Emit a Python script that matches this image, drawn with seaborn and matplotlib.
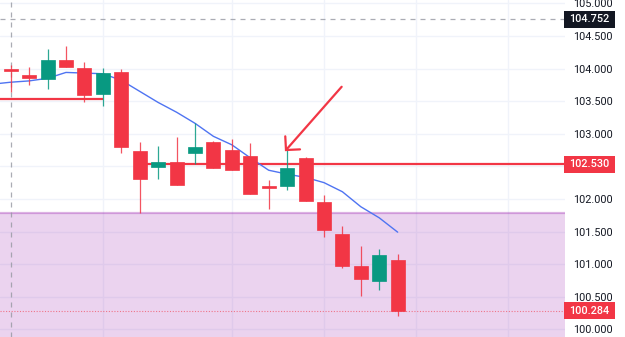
import numpy as np
import pandas as pd
import matplotlib
matplotlib.use("Agg")
import matplotlib.pyplot as plt
import matplotlib.transforms as mtransforms
from matplotlib.patches import Rectangle
import seaborn as sns

# ---------------- data ----------------
opens  = [103.99, 103.90, 103.84, 104.13, 104.01, 103.61, 103.95, 102.73, 102.49, 102.56, 102.70,
          102.88, 102.75, 102.66, 102.20, 102.20, 102.62, 101.95, 101.46, 100.97, 100.74, 101.07]
highs  = [104.05, 104.02, 104.30, 104.35, 104.10, 104.01, 103.99, 102.87, 102.81, 102.95, 103.16,
          102.89, 102.92, 102.86, 102.29, 102.77, 102.65, 102.06, 101.58, 101.28, 101.23, 101.15]
lows   = [103.64, 103.75, 103.68, 104.02, 103.48, 103.42, 102.71, 101.79, 102.31, 102.21, 102.54,
          102.48, 102.44, 102.07, 101.85, 102.13, 101.97, 101.42, 100.94, 100.51, 100.61, 100.21]
closes = [103.96, 103.86, 104.13, 104.02, 103.59, 103.93, 102.79, 102.31, 102.57, 102.21, 102.80,
          102.48, 102.44, 102.07, 102.16, 102.47, 101.97, 101.52, 100.97, 100.77, 101.14, 100.284]

# moving average, first value belongs to the bar before the first visible candle
ma_values = [103.76, 103.79, 103.81, 103.85, 103.94, 103.93, 103.92, 103.82, 103.65, 103.48, 103.33,
             103.16, 102.96, 102.83, 102.63, 102.44, 102.38, 102.33, 102.25, 102.11, 101.88, 101.71, 101.49]
ma_first_index = -1

support_level = 103.54       # red line on the left
support_end_bar = 5
resistance_level = 102.53    # red line on the right
resistance_start_bar = 7
zone_top = 101.78            # purple zone top
crosshair_price = 104.752
crosshair_bar = 0
last_price = 100.284
time_grid_bars = [5, 12, 17, 22, 27]
y_ticks = [100.0, 100.5, 101.0, 101.5, 102.0, 102.5, 103.0, 103.5, 104.0, 104.5, 105.0]
hidden_tick = 102.5          # covered by the 102.530 price label in the reference

arrow_tail = (17.96, 103.72)
arrow_tip = (14.94, 102.75)
arrow_arm1 = (14.90, 102.96)
arrow_arm2 = (15.70, 102.76)

# ---------------- style ----------------
sns.set_theme(style="white")
plt.rcParams['font.family'] = ['Roboto', 'DejaVu Sans']

RED = '#F23645'
GREEN = '#089981'
BLUE = '#4F74F2'
TXT = '#131722'
GRID = '#F0F3FA'

fig = plt.figure(figsize=(6.25, 3.37), dpi=100)
ax = fig.add_axes([0, 0, 565 / 625, 1])

xlim = (-0.58, 30.08)
ylim = (99.882, 105.051)
ax.set_xlim(*xlim)
ax.set_ylim(*ylim)

for s in ax.spines.values():
    s.set_visible(False)

# grid
for t in y_ticks:
    ax.axhline(t, color=GRID, lw=1, zorder=0)
for b in time_grid_bars:
    ax.axvline(b, color=GRID, lw=1, zorder=0)

# purple zone
ax.axhspan(ylim[0], zone_top, facecolor=(156/255, 39/255, 176/255, 0.2), edgecolor='none', zorder=1)
ax.axhline(zone_top, color=(156/255, 39/255, 176/255, 0.35), lw=1.6, zorder=1.1)

# crosshair
ax.axhline(crosshair_price, color='#9598A1', lw=0.9, ls=(0, (4, 4)), zorder=1.5, alpha=0.8)
ax.axvline(crosshair_bar, color='#9598A1', lw=0.9, ls=(0, (4, 4)), zorder=1.5, alpha=0.8)

# last price dotted line
ax.axhline(last_price, color=RED, lw=0.8, ls=(0, (1, 1.5)), zorder=1.6, alpha=0.6)

# horizontal red levels
ax.plot([xlim[0], support_end_bar], [support_level, support_level], color=RED, lw=1.6, zorder=2,
        solid_capstyle='butt')
ax.plot([resistance_start_bar, xlim[1]], [resistance_level, resistance_level], color=RED, lw=1.6,
        zorder=2, solid_capstyle='butt')

# moving average via seaborn
ma_df = pd.DataFrame({'bar': np.arange(len(ma_values)) + ma_first_index, 'ma': ma_values})
sns.lineplot(data=ma_df, x='bar', y='ma', color=BLUE, lw=1.0, ax=ax, zorder=2.5)

# candles
df = pd.DataFrame({'open': opens, 'high': highs, 'low': lows, 'close': closes})
df['bar'] = np.arange(len(df))
df['up'] = df['close'] >= df['open']
for _, r in df.iterrows():
    c = GREEN if r['up'] else RED
    ax.vlines(r['bar'], r['low'], r['high'], color=c, lw=0.9, zorder=3, alpha=0.85)
    lo = min(r['open'], r['close'])
    h = max(abs(r['close'] - r['open']), 0.03)
    ax.bar(r['bar'], h, bottom=lo, width=0.76, color=c, edgecolor=c, lw=0.5, zorder=4)

# arrow
ax.plot([arrow_tail[0], arrow_tip[0]], [arrow_tail[1], arrow_tip[1]], color=RED, lw=1.6, zorder=5,
        solid_capstyle='round')
ax.plot([arrow_arm1[0], arrow_tip[0], arrow_arm2[0]], [arrow_arm1[1], arrow_tip[1], arrow_arm2[1]],
        color=RED, lw=1.6, zorder=5, solid_capstyle='round', solid_joinstyle='miter')

# y axis on the right
ax.yaxis.tick_right()
ax.set_yticks(y_ticks)
ax.set_yticklabels(["" if t == hidden_tick else f"{t:.3f}" for t in y_ticks], fontsize=7.8, color=TXT)
ax.tick_params(axis='y', length=0, pad=6)
ax.set_xticks([])
ax.set_xlabel('')
ax.set_ylabel('')

# price label boxes
trans = mtransforms.blended_transform_factory(ax.transAxes, ax.transData)
box_x0 = 564 / 565
box_w = 51 / 565
box_h = 17 / 65.2
for price, bg in [(crosshair_price, '#131722'), (resistance_level, RED), (last_price, RED)]:
    rect = Rectangle((box_x0, price - box_h / 2), box_w, box_h, transform=trans, facecolor=bg,
                     edgecolor='none', clip_on=False, zorder=10)
    ax.add_patch(rect)
    ax.text(box_x0 + box_w / 2, price, f"{price:.3f}", transform=trans, ha='center', va='center',
            fontsize=7.8, color='white', fontweight='medium', zorder=11, clip_on=False)

fig.savefig('out.png', dpi=100)
